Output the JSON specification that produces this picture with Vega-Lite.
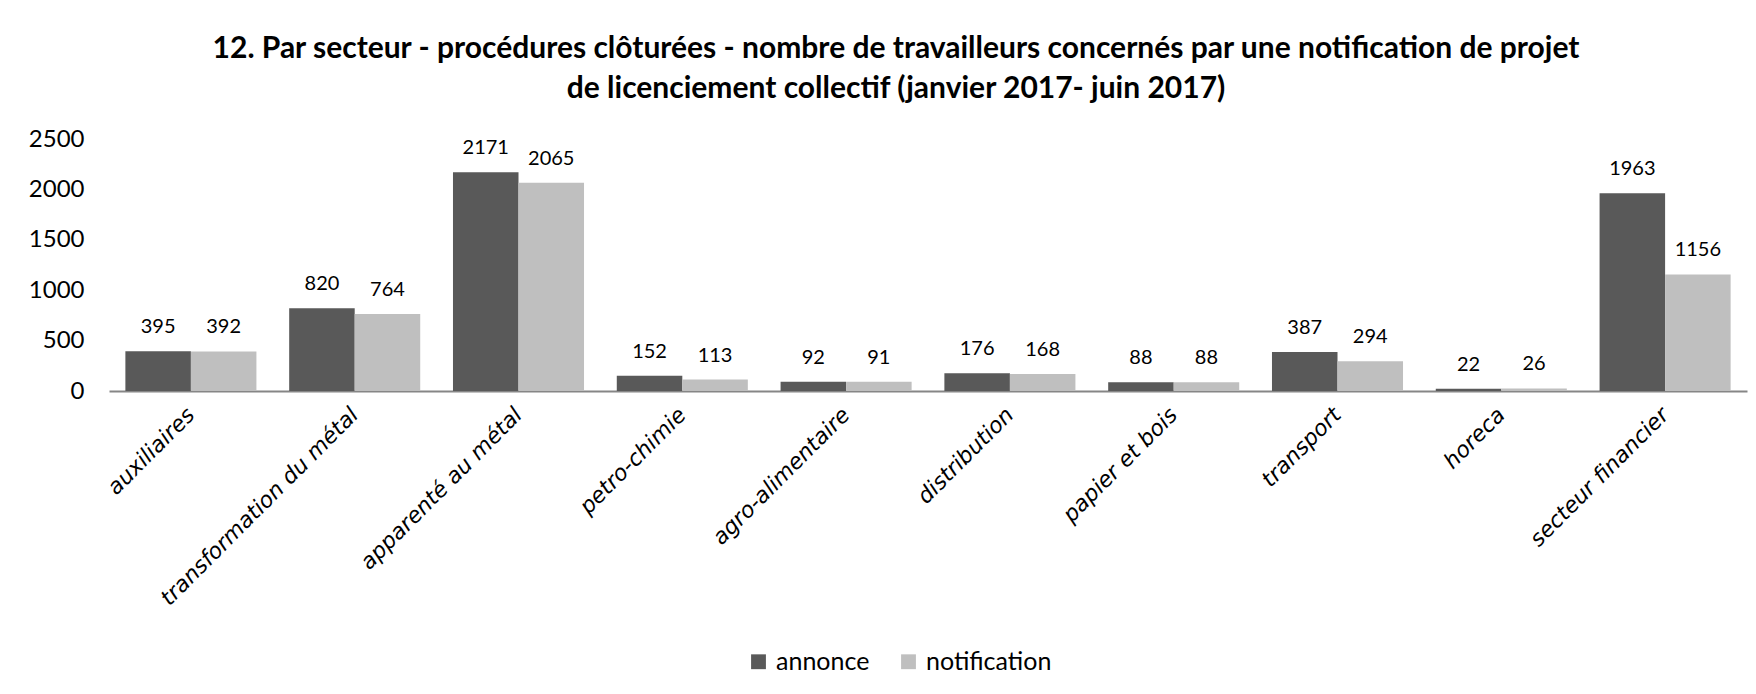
{
  "$schema": "https://vega.github.io/schema/vega-lite/v6.json",
  "width": 1638,
  "height": 252,
  "autosize": {"type": "none"},
  "padding": {"left": 109, "top": 139, "right": 9, "bottom": 303},
  "background": "white",
  "config": {"view": {"stroke": null}, "font": "Lato"},
  "title": {
    "text": ["12. Par secteur - procédures clôturées  - nombre de travailleurs concernés par une notification de projet", "de licenciement collectif (janvier 2017- juin 2017)"],
    "fontSize": 30,
    "font": "Lato",
    "fontWeight": "bold",
    "color": "#000000",
    "anchor": "middle",
    "lineHeight": 40,
    "offset": 23,
    "dx": -32
  },
  "data": {
    "values": [
      {"secteur": "auxiliaires", "serie": "annonce", "valeur": 395},
      {"secteur": "auxiliaires", "serie": "notification", "valeur": 392},
      {"secteur": "transformation du métal", "serie": "annonce", "valeur": 820},
      {"secteur": "transformation du métal", "serie": "notification", "valeur": 764},
      {"secteur": "apparenté au métal", "serie": "annonce", "valeur": 2171},
      {"secteur": "apparenté au métal", "serie": "notification", "valeur": 2065},
      {"secteur": "petro-chimie", "serie": "annonce", "valeur": 152},
      {"secteur": "petro-chimie", "serie": "notification", "valeur": 113},
      {"secteur": "agro-alimentaire", "serie": "annonce", "valeur": 92},
      {"secteur": "agro-alimentaire", "serie": "notification", "valeur": 91},
      {"secteur": "distribution", "serie": "annonce", "valeur": 176},
      {"secteur": "distribution", "serie": "notification", "valeur": 168},
      {"secteur": "papier et bois", "serie": "annonce", "valeur": 88},
      {"secteur": "papier et bois", "serie": "notification", "valeur": 88},
      {"secteur": "transport", "serie": "annonce", "valeur": 387},
      {"secteur": "transport", "serie": "notification", "valeur": 294},
      {"secteur": "horeca", "serie": "annonce", "valeur": 22},
      {"secteur": "horeca", "serie": "notification", "valeur": 26},
      {"secteur": "secteur financier", "serie": "annonce", "valeur": 1963},
      {"secteur": "secteur financier", "serie": "notification", "valeur": 1156}
    ]
  },
  "encoding": {
    "x": {
      "field": "secteur",
      "type": "nominal",
      "sort": null,
      "scale": {"paddingInner": 0.2, "paddingOuter": 0.1},
      "axis": {
        "title": null,
        "labelAngle": -45,
        "labelAlign": "right",
        "labelBaseline": "middle",
        "labelFont": "DejaVu Sans",
        "labelFontStyle": "italic",
        "labelFontSize": 22,
        "labelLimit": 0,
        "labelColor": "#000000",
        "labelPadding": 20,
        "ticks": false,
        "domainColor": "#868686",
        "domainWidth": 2
      }
    },
    "xOffset": {"field": "serie", "type": "nominal", "scale": {"paddingInner": 0, "paddingOuter": 0}},
    "y": {
      "field": "valeur",
      "type": "quantitative",
      "scale": {"domain": [0, 2500]},
      "axis": {
        "title": null,
        "values": [0, 500, 1000, 1500, 2000, 2500],
        "format": "d",
        "grid": false,
        "domain": false,
        "ticks": false,
        "labelFontSize": 24,
        "labelColor": "#000000",
        "labelPadding": 25
      }
    }
  },
  "layer": [
    {
      "mark": {"type": "bar"},
      "encoding": {
        "color": {
          "field": "serie",
          "type": "nominal",
          "scale": {"domain": ["annonce", "notification"], "range": ["#595959", "#BFBFBF"]},
          "legend": {
            "title": null,
            "orient": "none",
            "direction": "horizontal",
            "legendX": 637,
            "legendY": 510,
            "symbolType": "square",
            "symbolSize": 220,
            "symbolStrokeWidth": 0,
            "labelFontSize": 25,
            "labelColor": "#000000",
            "labelOffset": 5,
            "columnPadding": 26
          }
        }
      }
    },
    {
      "mark": {"type": "text", "baseline": "bottom", "dy": -14, "fontSize": 20, "color": "#000000"},
      "encoding": {"text": {"field": "valeur", "type": "quantitative"}}
    }
  ]
}
